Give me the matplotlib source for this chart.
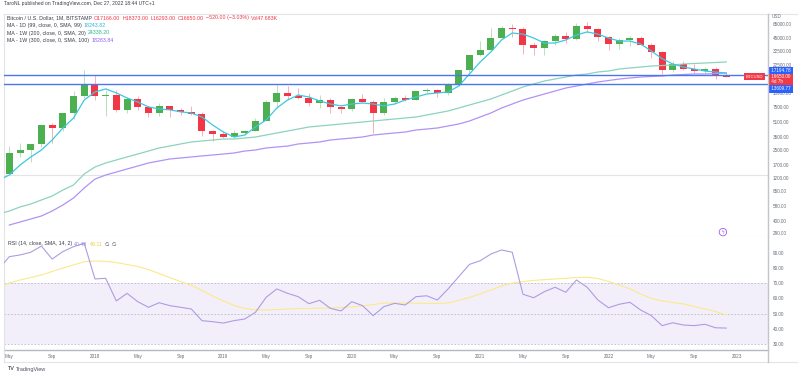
# BTC/USD monthly candles with moving averages and an RSI pane, TradingView look
import numpy as np
import matplotlib.pyplot as plt
from matplotlib.lines import Line2D

plt.rcParams['font.family'] = ['Liberation Sans', 'DejaVu Sans']

# month index: 0 = Jan 2018, first candle = May 2017
months = np.arange(-8, 60)
opens = [1348, 2300, 2480, 2875, 4735, 4340, 6450, 10000,
         13850, 10150, 10330, 6920, 9240, 7500, 6400, 7730, 7020, 6620, 6320, 4020,
         3740, 3460, 3830, 4100, 5320, 8560, 10820, 10080, 9600, 8300, 9150, 7550,
         7200, 9350, 8520, 6420, 8620, 9450, 9140, 11350, 11650, 10780, 13800, 19700,
         28950, 33100, 45200, 58800, 57700, 37300, 35000, 41500, 47100, 43800, 61300, 57000,
         46200, 38500, 43200, 45500, 37700, 31800, 19950, 23300, 20050, 19430, 20500, 17166]
highs = [2760, 2980, 2920, 4740, 5000, 6470, 11400, 19666,
         17200, 11780, 11700, 9750, 10000, 7780, 8500, 7760, 7410, 7700, 6590, 4200,
         4110, 4210, 4140, 5640, 9100, 13880, 13200, 12300, 10950, 10350, 9500, 7750,
         9570, 10500, 9190, 9470, 10080, 10400, 11460, 12470, 12070, 14100, 19850, 29300,
         41950, 58350, 61800, 64900, 59600, 41300, 42450, 50500, 52900, 67000, 69000, 59100,
         47900, 45800, 48200, 47400, 40000, 31900, 24650, 25200, 22800, 21100, 21480, 18373]
lows = [1345, 2076, 1830, 2670, 2970, 4110, 5500, 9500,
        9000, 5970, 6600, 6430, 7000, 5780, 6070, 5880, 6100, 6200, 3550, 3130,
        3350, 3390, 3700, 4070, 5320, 7440, 9070, 9350, 7710, 7300, 6520, 6430,
        6850, 8430, 3850, 6150, 8110, 8900, 8990, 10900, 9880, 10400, 13200, 17600,
        28130, 32300, 45000, 47000, 30000, 28800, 29300, 37300, 39600, 43300, 53300, 42000,
        32950, 34300, 37200, 37700, 26700, 17600, 18800, 19600, 18150, 18200, 15480, 16293]
closes = [2300, 2480, 2875, 4735, 4340, 6450, 10000, 13850,
          10150, 10330, 6920, 9240, 7500, 6400, 7730, 7020, 6620, 6320, 4020, 3740,
          3460, 3830, 4100, 5320, 8560, 10820, 10080, 9600, 8300, 9150, 7550, 7200,
          9350, 8520, 6420, 8620, 9450, 9140, 11350, 11650, 10780, 13800, 19700, 28950,
          33100, 45200, 58800, 57700, 37300, 35000, 41500, 47100, 43800, 61300, 57000, 46200,
          38500, 43200, 45500, 37700, 31800, 19950, 23300, 20050, 19430, 20500, 17166, 16650]

# moving averages (Apr 2017 .. Dec 2022)
ma_months = np.arange(-9, 60)
ma99 = [1140, 1300, 1685, 2075, 2485, 3220, 4395, 5695, 9075,
        11170, 12100, 10900, 9570, 8620, 7600, 7190, 7030, 6680, 6480, 5845, 4750,
        3960, 3480, 3665, 4510, 5410, 7380, 9075, 10330, 9810, 8850, 8180, 7800,
        8180, 8400, 8180, 7800, 8180, 9075, 9810, 10600, 10900, 11170, 13040, 17800,
        24290, 31500, 43000, 51500, 50000, 45200, 39700, 39700, 43000, 48900, 53000, 50000,
        45200, 41800, 41800, 38700, 32300, 26500, 23070, 21340, 20260, 19240, 18750, 18244]
ma200 = [474, 512, 568, 614, 681, 755, 880, 1005, 1335,
         1600, 1775, 1920, 2075, 2240, 2420, 2620, 2755, 2905, 3060, 3140, 3220,
         3305, 3305, 3390, 3480, 3665, 3860, 4065, 4280, 4510, 4630, 4750, 4875,
         5000, 5135, 5270, 5410, 5550, 5695, 5845, 6155, 6480, 6830, 7380, 7975,
         8620, 9315, 10330, 11460, 12710, 13740, 14850, 15640, 16470, 17350, 17800, 18750,
         19240, 20260, 20790, 21340, 21900, 22180, 22470, 23070, 23370, 23670, 23980, 24338]
ma300_months = np.arange(-8, 60)
ma300 = [356, 385, 416, 450, 512, 598, 717, 930,
         1170, 1300, 1405, 1520, 1640, 1775, 1870, 1970, 2020, 2075, 2130, 2185,
         2240, 2300, 2420, 2485, 2620, 2685, 2755, 2905, 2980, 3060, 3220, 3305,
         3390, 3480, 3665, 3765, 3860, 3960, 4175, 4280, 4395, 4630, 4875, 5270,
         5845, 6480, 7380, 8180, 9075, 9810, 10600, 11460, 12380, 13040, 13740, 14470,
         15040, 15640, 16050, 16470, 16690, 16900, 17350, 17570, 17800, 17800, 18040, 18284]

rsi = [79.4, 87.6, 88.7, 90.5, 94.6, 86.0, 90.9, 94.2, 96.4,
       72.9, 73.3, 58.4, 63.4, 57.9, 54.2, 57.2, 55.3, 54.2, 53.1, 45.4, 44.7,
       43.8, 45.4, 46.5, 50.9, 60.8, 66.3, 63.4, 61.2, 56.6, 58.8, 53.5, 51.8,
       57.9, 55.3, 48.7, 54.6, 56.8, 55.7, 61.2, 61.8, 59.0, 66.3, 74.4, 82.5,
       84.9, 89.3, 92.0, 90.5, 62.8, 60.5, 64.5, 67.4, 64.1, 72.2, 67.4, 59.0,
       53.9, 56.2, 57.5, 52.4, 48.7, 42.1, 44.0, 42.5, 42.1, 43.0, 40.7, 40.48]
rsi_ma = [67.6, 70.2, 72.2, 73.8, 75.5, 77.8, 80.1, 82.1, 84.3,
          84.7, 84.5, 83.7, 82.4, 81.1, 79.1, 76.5, 73.8, 71.2, 68.6, 65.3, 61.6,
          58.4, 55.4, 53.4, 52.4, 52.4, 52.7, 53.1, 53.4, 53.4, 53.7, 53.7, 54.1,
          54.4, 55.1, 56.0, 57.0, 57.0, 57.0, 56.9, 56.8, 56.8, 57.0, 58.7, 60.7,
          63.0, 65.6, 68.2, 70.2, 71.2, 71.9, 72.4, 72.9, 73.3, 73.8, 74.0, 73.2,
          71.2, 68.9, 66.3, 63.0, 60.0, 58.4, 57.4, 56.4, 54.7, 53.1, 51.4, 49.11]

levels = [17194.78, 13609.77]
grey_level = 1300

price_ticks = [65000, 45000, 32500, 22500, 10900, 7500, 5100, 3500,
               2500, 1700, 1200, 850, 580, 400, 290]
rsi_ticks = [30, 40, 50, 60, 70, 80, 90]
tick_months = [-8, -4, 0, 4, 8, 12, 16, 20, 24, 28, 32, 36, 40, 44, 48, 52, 56, 60]
tick_labels = ['May', 'Sep', '2018', 'May', 'Sep', '2019', 'May', 'Sep', '2020',
               'May', 'Sep', '2021', 'May', 'Sep', '2022', 'May', 'Sep', '2023']

GREEN = '#4caf50'
RED = '#f23645'
CYAN = '#3cc8e0'
TEAL = '#8cd3bd'
PURPLE = '#b093f5'
BLUE = '#4a76f0'
RSI_C = '#ae9ce2'
YEL = '#fbe98a'
AXC = '#6a6d78'

W, H = 800, 378
fig = plt.figure(figsize=(W / 100, H / 100), dpi=100)
fig.patch.set_facecolor('white')


def fx(px):
    return px / W


def fy(py):
    return 1 - py / H


ax = fig.add_axes([fx(4), fy(237), fx(768) - fx(4), fy(14) - fy(237)])
rx = fig.add_axes([fx(4), fy(350), fx(768) - fx(4), fy(237) - fy(350)], sharex=ax)

# ---- price pane
ax.set_yscale('log')
ax.set_xlim(-8.5, 62.9)
ax.set_ylim(261, 84240)

o = np.array(opens, float)
c = np.array(closes, float)
col = np.where(c >= o, GREEN, RED)
ax.vlines(months, lows, highs, colors=col, lw=0.6, alpha=0.45, zorder=2)
ax.bar(months, np.abs(c - o), bottom=np.minimum(o, c), width=0.66,
       color=col, linewidth=0, zorder=3)

ax.plot(ma_months, ma200, color=TEAL, lw=0.9, zorder=4)
ax.plot(ma300_months, ma300, color=PURPLE, lw=0.9, zorder=4)
ax.plot(ma_months, ma99, color=CYAN, lw=0.9, zorder=4)
for lv in levels:
    ax.axhline(lv, color=BLUE, lw=1.0, zorder=5)
ax.axhline(grey_level, color='#e4e4e6', lw=0.8, zorder=1)

ax.yaxis.tick_right()
ax.set_yticks(price_ticks, ['%.2f' % t for t in price_ticks])
ax.yaxis.set_minor_locator(plt.NullLocator())
ax.tick_params(axis='y', length=0, pad=3.6, labelsize=3.3, labelcolor=AXC)
ax.tick_params(axis='x', length=0, labelbottom=False)
for s in ax.spines.values():
    s.set_color('#e3e4e8')
    s.set_linewidth(0.8)


def tag(val, text, color, dy_px):
    ax.annotate(text, xy=(1, val), xycoords=('axes fraction', 'data'),
                xytext=(1.2, dy_px * 0.72), textcoords='offset points',
                ha='left', va='center', fontsize=3.3, color='white', linespacing=1.0,
                bbox=dict(boxstyle='square,pad=0.3', fc=color, ec='none'),
                annotation_clip=False, zorder=10)


tag(closes[-1], ' 16650.00 \n 4d 7h      ', '#f03a48', -2.0)
tag(levels[0], ' 17194.78 ', '#2962ff', 4.8)
tag(levels[1], ' 13609.77 ', '#2962ff', -4.4)
ax.annotate('BTCUSD', xy=(1, closes[-1]), xycoords=('axes fraction', 'data'),
            xytext=(-3.5, 0), textcoords='offset points', ha='right', va='center',
            fontsize=3.0, color='white',
            bbox=dict(boxstyle='square,pad=0.35', fc='#f03a48', ec='none'), zorder=10)
ax.text(0.941, 0.022, 'ϟ', transform=ax.transAxes, ha='center', va='center',
        fontsize=3.5, color='#9c5cf2',
        bbox=dict(boxstyle='circle,pad=0.25', fc='white', ec='#9c5cf2', lw=0.6))

# ---- RSI pane
rx.axhspan(30, 70, color='#f3effa', zorder=0, lw=0)
for lv in (70, 50, 30):
    rx.axhline(lv, color='#bcb8c8', lw=0.6, ls=(0, (2, 2)), zorder=1)
rx.plot(ma_months, rsi_ma, color=YEL, lw=0.8, zorder=3)
rx.plot(ma_months, rsi, color=RSI_C, lw=0.8, zorder=4)
rx.set_ylim(26.04, 100.55)
rx.yaxis.tick_right()
rx.set_yticks(rsi_ticks, ['%.2f' % t for t in rsi_ticks])
rx.tick_params(axis='y', length=0, pad=3.6, labelsize=3.3, labelcolor=AXC)
rx.set_xticks(tick_months, tick_labels)
rx.tick_params(axis='x', length=0, pad=2.6, labelsize=3.3, labelcolor=AXC)
for s in rx.spines.values():
    s.set_color('#e3e4e8')
    s.set_linewidth(0.8)
rx.spines['bottom'].set_color('#b6b8c0')
rx.spines['bottom'].set_linewidth(1.0)
rx.spines['top'].set_visible(False)

# frame lines outside the panes
fig.add_artist(Line2D([fx(768), fx(797)], [fy(14), fy(14)], color='#e3e4e8', lw=0.8))
fig.add_artist(Line2D([fx(4), fx(797)], [fy(362), fy(362)], color='#e3e4e8', lw=0.8))
fig.add_artist(Line2D([fx(768), fx(768)], [fy(14), fy(362)], color='#c3c5cc', lw=1.0))
fig.add_artist(Line2D([fx(4), fx(4)], [fy(350), fy(362)], color='#e3e4e8', lw=0.8))

# ---- texts
renderer = fig.canvas.get_renderer()


def text_row(x_px, y_px, parts, size=3.8, gap=2.2):
    x = x_px
    for s, colr in parts:
        t = fig.text(fx(x), fy(y_px), s, color=colr, fontsize=size, ha='left', va='center')
        x += t.get_window_extent(renderer=renderer).width + gap


DARK = '#3a3d46'
fig.text(fx(4), fy(4), 'TaroNL published on TradingView.com, Dec 27, 2022 18:44 UTC+1',
         fontsize=3.6, color=DARK, ha='left', va='center')
text_row(7, 18, [('Bitcoin / U.S. Dollar, 1M, BITSTAMP', DARK),
                 ('O17166.00', RED), ('H18373.00', RED), ('L16293.00', RED),
                 ('C16650.00', RED), ('\u2212520.00 (\u22123.03%)', RED), ('Vol47.683K', RED)])
text_row(7, 25.5, [('MA - 1D (99, close, 0, SMA, 99)', DARK), ('18243.82', '#22b8d8')])
text_row(7, 33, [('MA - 1W (200, close, 0, SMA, 20)', DARK), ('24338.20', '#2bb394')])
text_row(7, 40.5, [('MA - 1W (300, close, 0, SMA, 100)', DARK), ('18283.84', '#8a5cf6')])
text_row(8, 244, [('RSI (14, close, SMA, 14, 2)', DARK), ('40.48', '#9a86d8'),
                  ('49.11', '#f0cf3c'), ('\u2205', DARK), ('\u2205', DARK)])
fig.text(fx(772), fy(16), 'USD', fontsize=3.3, color=AXC, ha='left', va='center')
text_row(8, 369, [('TV', '#131722'), ('TradingView', '#50535e')], size=4.0, gap=1.5)

fig.savefig('out.png', dpi=100, facecolor='white')
